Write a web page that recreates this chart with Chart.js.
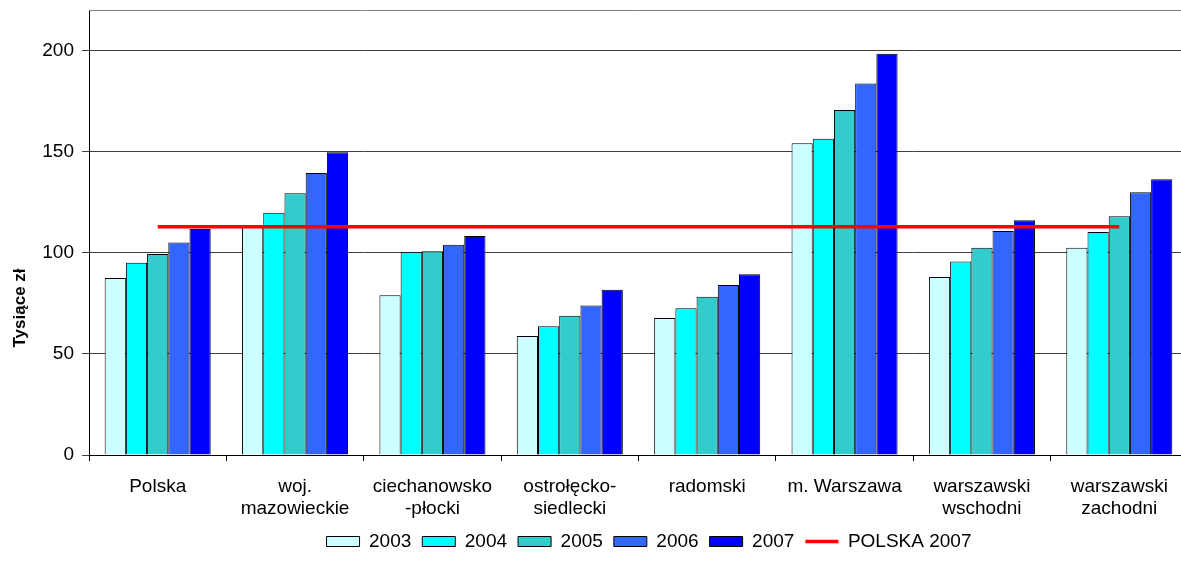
<!DOCTYPE html>
<html>
<head>
<meta charset="utf-8">
<script src="https://cdn.jsdelivr.net/npm/chart.js@4.4.1/dist/chart.umd.min.js"></script>
<style>
  html, body { margin: 0; padding: 0; background: #fff; overflow: hidden; }
  #wrap { width: 1298px; height: 563px; }
</style>
</head>
<body>
<div id="wrap"><canvas id="chart" width="1298" height="563"></canvas></div>
<script>
// Dane
const categories = [
    'Polska',
    ['woj.', 'mazowieckie'],
    ['ciechanowsko', '-płocki'],
    ['ostrołęcko-', 'siedlecki'],
    'radomski',
    'm. Warszawa',
    ['warszawski', 'wschodni'],
    ['warszawski', 'zachodni']
];
const years = ['2003', '2004', '2005', '2006', '2007'];
const v2003 = [87.5, 113.4, 79.0, 58.8, 67.7, 154.1, 88.0, 102.5];
const v2004 = [95.0, 119.8, 100.2, 63.7, 72.6, 156.3, 95.7, 110.2];
const v2005 = [99.4, 129.4, 100.7, 68.8, 78.2, 170.6, 102.5, 118.0];
const v2006 = [105.1, 139.4, 104.0, 73.9, 84.0, 183.7, 110.7, 129.9];
const v2007 = [111.7, 149.7, 108.3, 81.7, 89.3, 198.4, 116.0, 136.3];
const polska2007 = [112.8, 112.8, 112.8, 112.8, 112.8, 112.8, 112.8, 112.8];
const lineLabel = 'POLSKA 2007';
const yTitle = 'Tysiące zł';
const yMax = 220;
const yStep = 50;

const barColors = ['#CCFFFF', '#00FFFF', '#33CCCC', '#3366FF', '#0000FF'];
const barValues = [v2003, v2004, v2005, v2006, v2007];

Chart.defaults.font.family = '"Liberation Sans", Arial, sans-serif';
Chart.defaults.color = '#000';

// ramka obszaru wykresu + tytuł osi Y
const plotFrame = {
    id: 'plotFrame',
    beforeDatasetsDraw(chart) {
        const { ctx, chartArea } = chart;
        ctx.save();
        ctx.strokeStyle = '#808080';
        ctx.lineWidth = 1;
        ctx.beginPath();
        ctx.moveTo(chartArea.left, chartArea.top + 0.5);
        ctx.lineTo(chartArea.right - 0.5, chartArea.top + 0.5);
        ctx.lineTo(chartArea.right - 0.5, chartArea.bottom);
        ctx.stroke();
        ctx.restore();
    },
    afterDraw(chart) {
        const ctx = chart.ctx;
        ctx.save();
        ctx.translate(20, 308);
        ctx.rotate(-Math.PI / 2);
        ctx.font = 'bold 17px "Liberation Sans", Arial, sans-serif';
        ctx.fillStyle = '#000';
        ctx.textAlign = 'center';
        ctx.textBaseline = 'middle';
        ctx.fillText(yTitle, 0, 0);
        ctx.restore();
    }
};

const datasets = years.map((y, i) => ({
    type: 'bar',
    label: y,
    data: barValues[i],
    backgroundColor: barColors[i],
    borderColor: '#000',
    borderWidth: 1,
    categoryPercentage: 0.772,
    barPercentage: 1.0,
    order: 1
}));
datasets.push({
    type: 'line',
    label: lineLabel,
    data: polska2007,
    borderColor: '#FF0000',
    backgroundColor: '#FF0000',
    borderWidth: 3.5,
    pointRadius: 0,
    fill: false,
    order: 0
});

new Chart(document.getElementById('chart'), {
    type: 'bar',
    data: { labels: categories, datasets: datasets },
    plugins: [plotFrame],
    options: {
        responsive: false,
        animation: false,
        layout: { padding: { top: 10, bottom: 2, left: 0, right: 0 } },
        plugins: {
            tooltip: { enabled: false },
            legend: {
                position: 'bottom',
                labels: {
                    usePointStyle: true,
                    pointStyleWidth: 33,
                    boxHeight: 10,
                    padding: 11,
                    color: '#000',
                    font: { size: 19 },
                    sort: (a, b) => a.datasetIndex - b.datasetIndex,
                    generateLabels(chart) {
                        const items = Chart.defaults.plugins.legend.labels.generateLabels(chart);
                        items.forEach(it => {
                            const ds = chart.data.datasets[it.datasetIndex];
                            if (ds.type === 'line') {
                                it.pointStyle = 'line';
                                it.strokeStyle = '#FF0000';
                                it.lineWidth = 3.5;
                            } else {
                                it.pointStyle = 'rect';
                                it.strokeStyle = '#000';
                                it.lineWidth = 1;
                            }
                        });
                        return items;
                    }
                }
            }
        },
        scales: {
            x: {
                grid: { offset: true, drawOnChartArea: false, tickLength: 6, color: '#000' },
                border: { color: '#000' },
                ticks: { color: '#000', font: { size: 19 }, padding: 14, maxRotation: 0, autoSkip: false },
                afterFit(scale) { scale.height = 66; }
            },
            y: {
                min: 0,
                max: yMax,
                grid: { color: '#404040', tickLength: 7 },
                border: { color: '#000' },
                ticks: { stepSize: yStep, includeBounds: false, color: '#000', font: { size: 19 }, padding: 8 },
                afterFit(scale) {
                    scale.width = 89;
                    scale.paddingTop = 0;
                    scale.paddingBottom = 0;
                }
            },
            yR: {
                type: 'linear',
                position: 'right',
                grid: { display: false },
                border: { display: false },
                ticks: { display: false },
                afterFit(scale) {
                    scale.width = 110;
                    scale.paddingTop = 0;
                    scale.paddingBottom = 0;
                }
            }
        }
    }
});
</script>
</body>
</html>
